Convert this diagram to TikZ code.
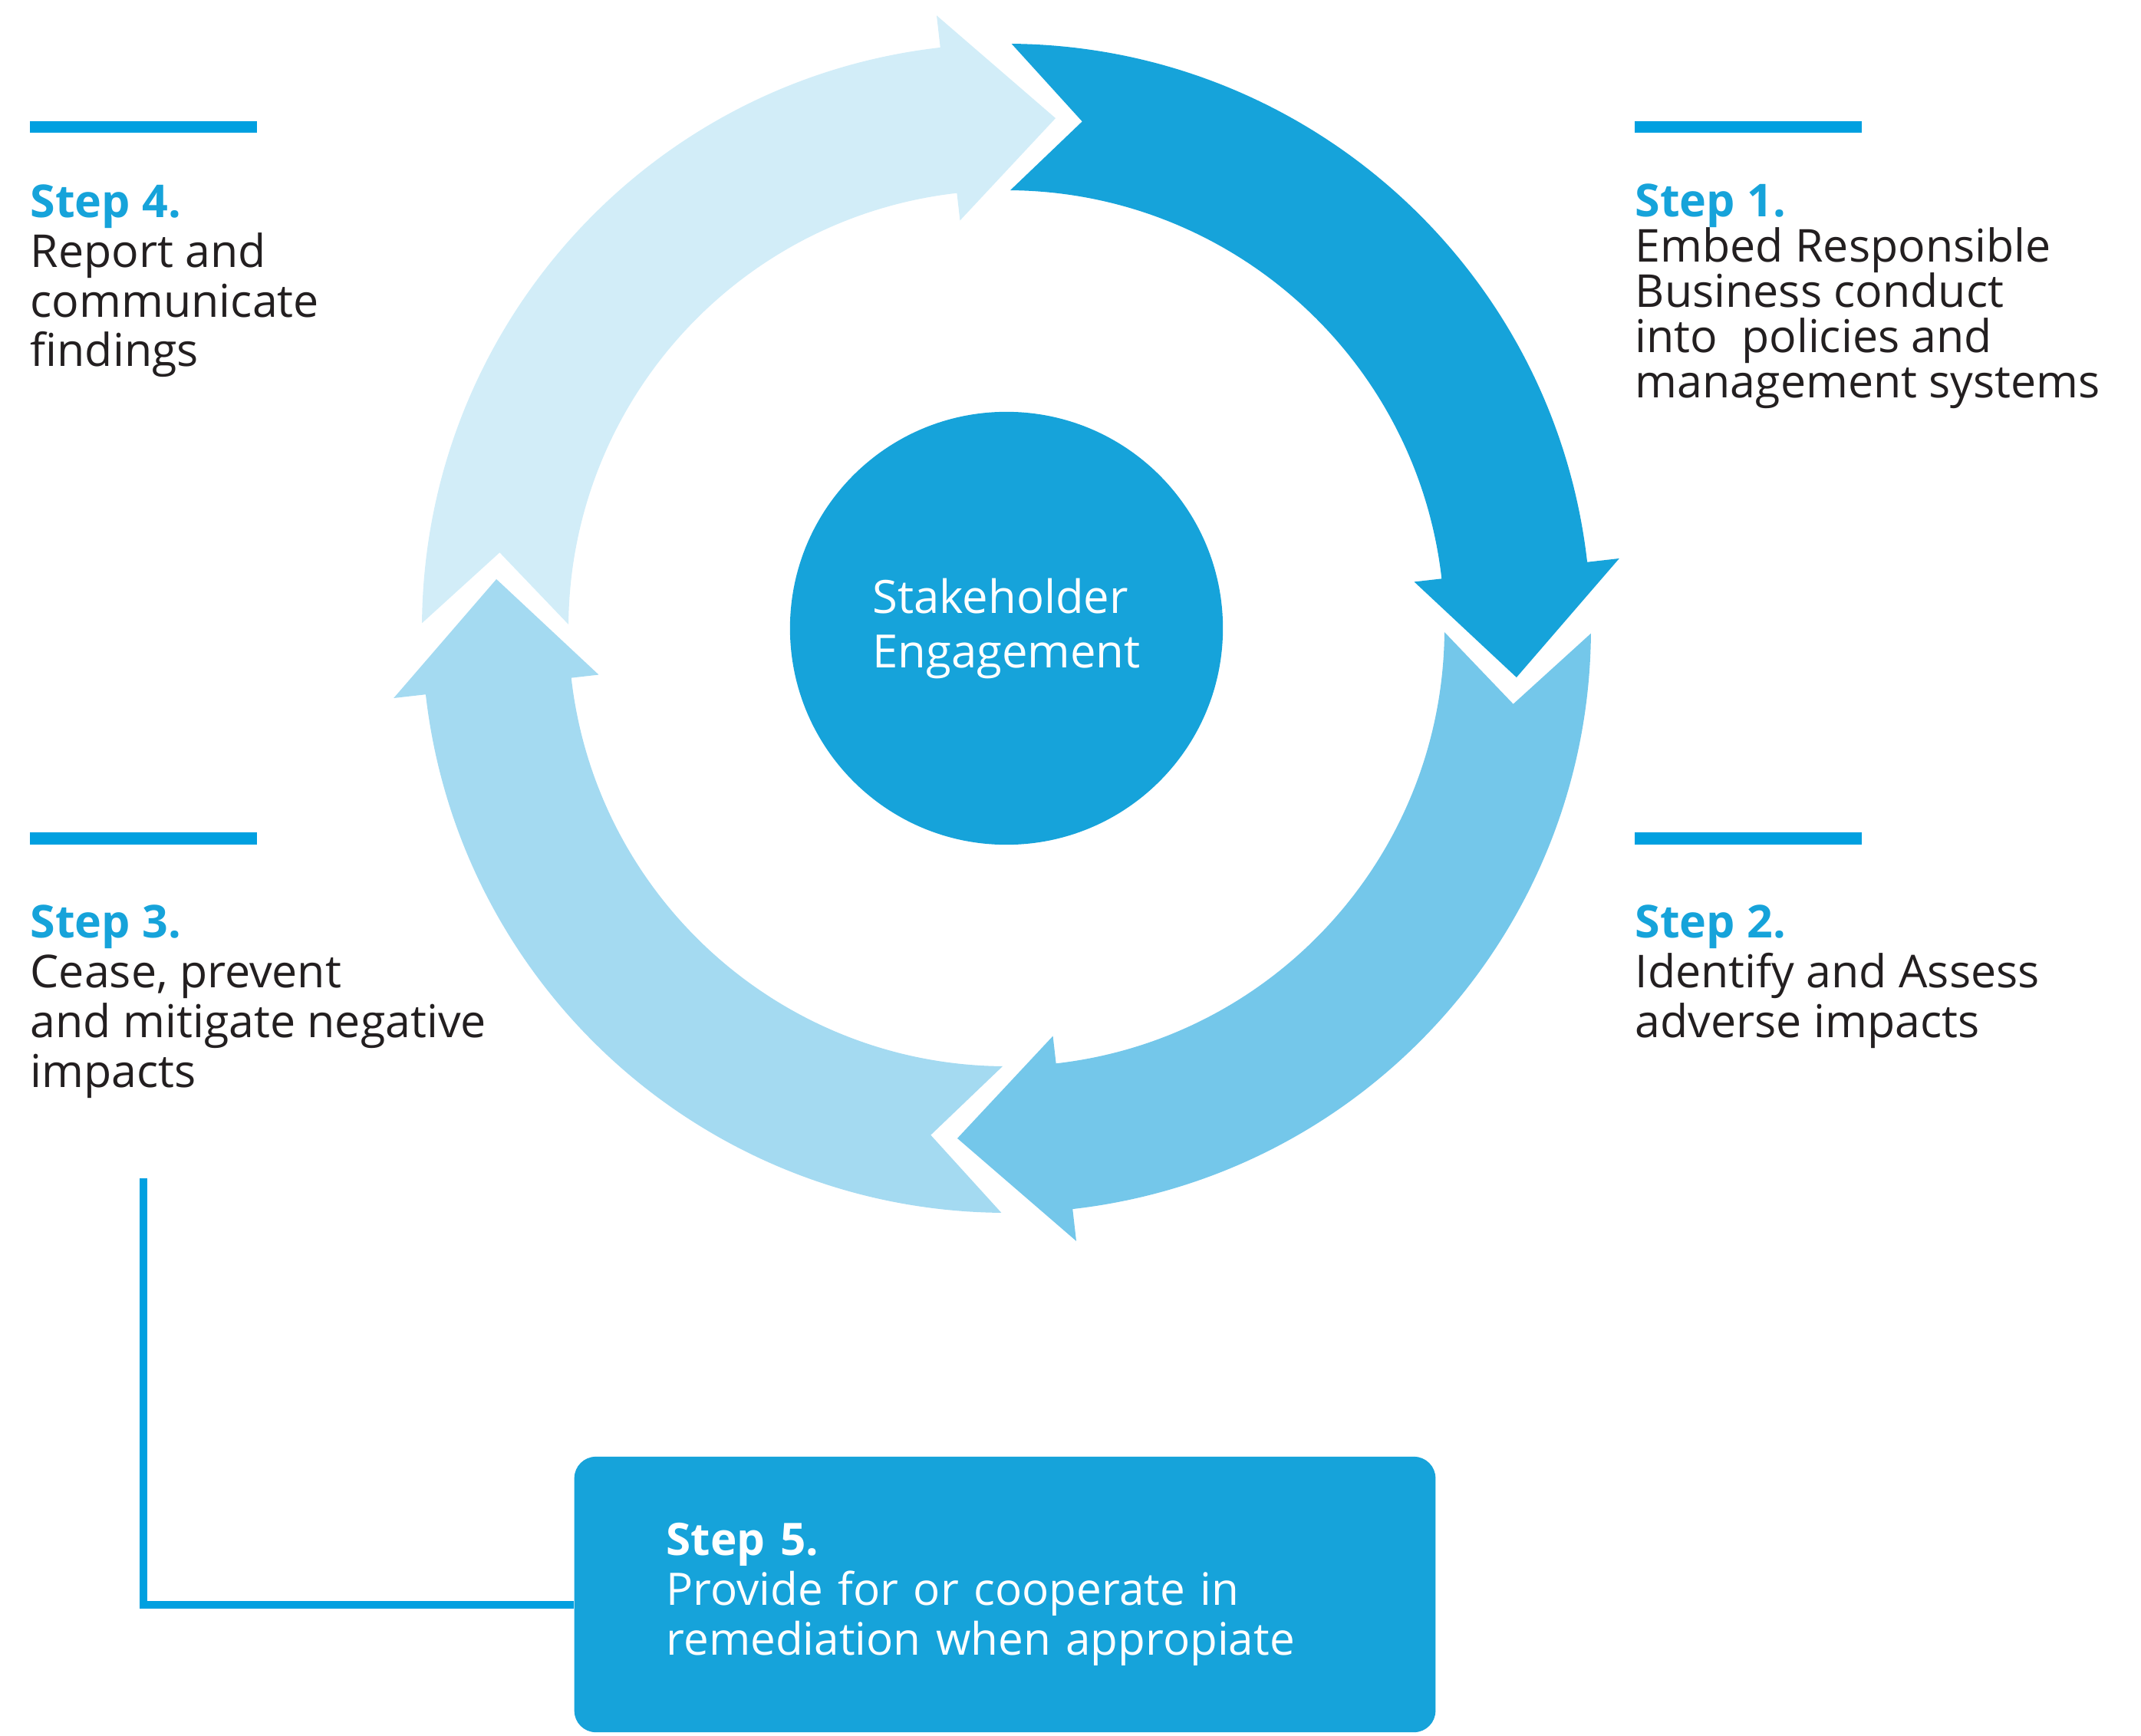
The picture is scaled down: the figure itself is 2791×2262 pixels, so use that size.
\documentclass[tikz,border=0pt]{standalone}
\usepackage{fontspec}
\setmainfont{Open Sans}
\usetikzlibrary{positioning}
\definecolor{stepblue}{RGB}{22,163,218}
\definecolor{barblue}{RGB}{0,160,224}
\definecolor{ringA}{RGB}{22,163,218}
\definecolor{ringB}{RGB}{116,199,234}
\definecolor{ringC}{RGB}{164,218,241}
\definecolor{ringD}{RGB}{210,237,248}
\definecolor{textdark}{RGB}{35,31,32}
% base west = baseline of the last line
\tikzstyle{steptext} = [anchor=base west, align=left, inner sep=0pt,
                        text=textdark, font=\fontsize{16.8}{18.4}\selectfont]
\tikzstyle{bar} = [barblue, line width=0.15cm]
\tikzstyle{link} = [barblue, line width=0.1cm]
\tikzstyle{hub} = [circle, fill=stepblue, minimum size=5.64cm,
                   text=white, align=left, font=\fontsize{17}{20.2}\selectfont]
\tikzstyle{remedy} = [rectangle, rounded corners=0.28cm, fill=stepblue,
                      text width=8.82cm, inner xsep=1.2cm, minimum height=3.59cm,
                      align=left, text=white, font=\fontsize{16.6}{18.5}\selectfont]
\newcommand{\steplabel}[1]{\textcolor{stepblue}{\textbf{#1}}}

\begin{document}
\begin{tikzpicture}[x=0.01cm, y=0.01cm]
    \useasboundingbox (0,0) rectangle (2791,2262);

    % ring of four arrows, clockwise
    \begin{scope}[shift={(1312,1443)}]
        \foreach \ang/\col in {89.5/ringA, -0.5/ringB, -90.5/ringC, -180.5/ringD}
            \fill[\col] (\ang:762) arc[start angle=\ang, end angle=\ang-83, radius=762]
                -- (\ang-83:804) -- (\ang-95:668) -- (\ang-83:535) -- (\ang-83:571)
                arc[start angle=\ang-83, end angle=\ang, radius=571]
                -- (\ang-8:668) -- cycle;
    \end{scope}

    \node (Hub) [hub] at (1312,1443) {Stakeholder\\Engagement};

    \foreach \bx in {39,2131}
        \foreach \by in {2096,1169}
            \draw [bar] (\bx,\by) -- ++(296,0);

    \node (Step4) [steptext] at (39,1784) {\steplabel{Step 4.}\\Report and\\communicate\\findings};

    \node (Step1) [steptext, font=\fontsize{16.8}{16.8}\selectfont] at (2131,1743)
        {\steplabel{Step 1.}\\Embed Responsible\\Business conduct\\into\ \ policies and\\management systems};

    \node (Step3) [steptext] at (39,845) {\steplabel{Step 3.}\\Cease, prevent\\and mitigate negative\\impacts};

    \node (Step2) [steptext] at (2131,910) {\steplabel{Step 2.}\\Identify and Assess\\adverse impacts};

    \node (Step5) [remedy] at (1310,183.5) {\textbf{Step 5.}\\Provide for or cooperate in\\remediation when appropiate};

    \coordinate (Step3Link) at (187,726);
    \draw [link] (Step3Link) |- ([yshift=-0.13cm]Step5.west);

\end{tikzpicture}
\end{document}
